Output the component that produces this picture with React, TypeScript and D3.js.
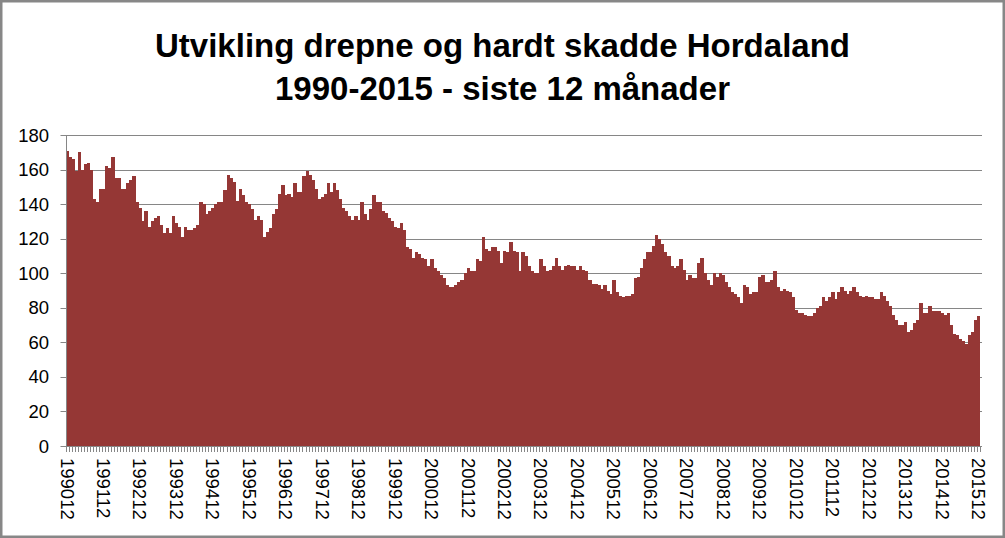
import React from 'react';
import * as d3 from 'd3';

// Monthly values (rolling 12 months), 199012 .. 201512
const values: number[] = [
  171, 167, 166, 159, 170, 160, 163, 164, 160, 143, 141, 149,
  149, 162, 161, 167, 155, 155, 149, 149, 152, 154, 156, 141,
  138, 130, 136, 127, 130, 132, 133, 128, 123, 126, 123, 133,
  129, 127, 121, 127, 125, 125, 126, 128, 141, 140, 134, 136,
  138, 140, 141, 141, 148, 157, 155, 153, 142, 149, 145, 141,
  140, 137, 131, 133, 131, 121, 124, 126, 134, 137, 146, 151,
  145, 146, 144, 152, 147, 147, 156, 159, 157, 154, 149, 143,
  144, 146, 152, 147, 152, 148, 143, 138, 136, 133, 131, 133,
  131, 141, 134, 131, 137, 145, 141, 141, 136, 135, 132, 130,
  127, 126, 129, 125, 115, 114, 109, 112, 111, 109, 108, 104,
  108, 103, 101, 99, 97, 93, 92, 92, 93, 95, 96, 100,
  103, 101, 101, 108, 107, 121, 114, 113, 115, 115, 113, 106,
  113, 112, 118, 113, 112, 101, 112, 110, 104, 101, 100, 100,
  108, 104, 101, 102, 104, 109, 104, 102, 104, 105, 104, 104,
  102, 104, 102, 101, 96, 94, 94, 93, 91, 93, 90, 88,
  96, 89, 87, 86, 87, 87, 88, 97, 98, 103, 108, 112,
  112, 116, 122, 120, 117, 112, 110, 104, 103, 104, 108, 102,
  96, 99, 97, 97, 106, 109, 100, 96, 93, 100, 98, 100,
  99, 95, 92, 89, 88, 86, 83, 93, 92, 88, 89, 89,
  98, 99, 95, 95, 96, 101, 92, 90, 91, 90, 89, 86,
  79, 77, 77, 76, 75, 75, 77, 80, 81, 86, 84, 86,
  89, 85, 89, 92, 90, 88, 90, 92, 89, 87, 86, 87,
  86, 86, 85, 85, 89, 87, 84, 81, 76, 73, 70, 70,
  72, 66, 67, 71, 73, 83, 77, 77, 81, 78, 78, 78,
  77, 76, 77, 70, 65, 64, 62, 61, 59, 64, 66, 73,
  75,
];

const tickLabels: string[] = [
  '199012', '199112', '199212', '199312', '199412', '199512', '199612',
  '199712', '199812', '199912', '200012', '200112', '200212', '200312',
  '200412', '200512', '200612', '200712', '200812', '200912', '201012',
  '201112', '201212', '201312', '201412', '201512',
];

const yTicks: number[] = [0, 20, 40, 60, 80, 100, 120, 140, 160, 180];

const titleLines: string[] = [
  'Utvikling drepne og hardt skadde Hordaland',
  '1990-2015 - siste 12 månader',
];

const W = 1005;
const H = 538;
const FONT = "'Liberation Sans', Arial, sans-serif";

export default function App() {
  const x = d3
    .scaleBand<number>()
    .domain(d3.range(values.length))
    .range([65.5, 980])
    .paddingInner(0)
    .paddingOuter(0);
  const y = d3.scaleLinear().domain([0, 180]).range([446, 135]);
  const bw = x.bandwidth();
  const x0 = x.range()[0];
  const gridColor = '#868686';

  return (
    <div style={{ position: 'absolute', left: 0, top: 0 }}>
      <svg width={W} height={H} style={{ display: 'block', background: '#fff' }}>
        <rect x={0} y={0} width={W} height={H} fill="#fff" />
        {/* title */}
        {titleLines.map((t, i) => (
          <text
            key={t}
            x={W / 2}
            y={57 + i * 43}
            textAnchor="middle"
            fontFamily={FONT}
            fontWeight="bold"
            fontSize={33}
            fill="#000"
          >
            {t}
          </text>
        ))}
        {/* gridlines */}
        {yTicks.map((t) => (
          <line
            key={'g' + t}
            x1={x0 - 5}
            x2={982}
            y1={Math.round(y(t)) + 0.5}
            y2={Math.round(y(t)) + 0.5}
            stroke={gridColor}
            strokeWidth={1}
          />
        ))}
        {/* bars */}
        <g shapeRendering="crispEdges">
          {values.map((v, i) => (
            <rect
              key={i}
              x={x(i)}
              y={y(v)}
              width={bw + 0.4}
              height={y(0) - y(v)}
              fill="#953735"
            />
          ))}
        </g>
        {/* y axis line */}
        <line
          x1={Math.round(x0) + 0.5}
          x2={Math.round(x0) + 0.5}
          y1={y(180)}
          y2={y(0)}
          stroke={gridColor}
        />
        {/* x axis line */}
        <line x1={x0} x2={982} y1={Math.round(y(0)) + 0.5} y2={Math.round(y(0)) + 0.5} stroke={gridColor} />
        {/* month ticks */}
        {d3.range(values.length + 1).map((i) => (
          <line
            key={'t' + i}
            x1={Math.round(x0 + i * bw) + 0.5}
            x2={Math.round(x0 + i * bw) + 0.5}
            y1={Math.round(y(0))}
            y2={Math.round(y(0)) + 6}
            stroke={gridColor}
          />
        ))}
        {/* y labels */}
        {yTicks.map((t) => (
          <text
            key={'yl' + t}
            x={49}
            y={y(t)}
            textAnchor="end"
            dominantBaseline="central"
            fontFamily={FONT}
            fontSize={18.5}
            fill="#000"
          >
            {t}
          </text>
        ))}
        {/* x labels */}
        {tickLabels.map((lab, k) => {
          const cx = (x(k * 12) as number) + bw / 2;
          return (
            <text
              key={lab}
              transform={`translate(${cx},458) rotate(90)`}
              textAnchor="start"
              dominantBaseline="central"
              fontFamily={FONT}
              fontSize={18.5}
              fill="#000"
            >
              {lab}
            </text>
          );
        })}
        {/* chart border */}
        <rect x={1.25} y={1.25} width={W - 2.5} height={H - 2.5} fill="none" stroke="#878787" strokeWidth={2.5} />
      </svg>
    </div>
  );
}
